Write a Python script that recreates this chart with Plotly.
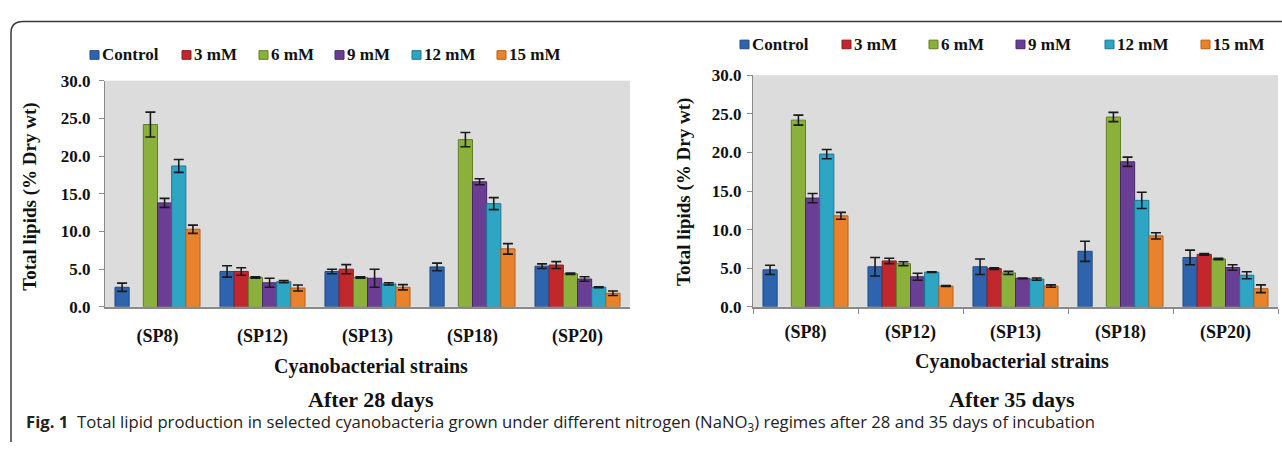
import plotly.graph_objects as go

W, H = 1282, 450

strains = ["(SP8)", "(SP12)", "(SP13)", "(SP18)", "(SP20)"]
series_names = ["Control", "3 mM", "6 mM", "9 mM", "12 mM", "15 mM"]

# Total lipids (% dry wt) after 28 days, one list per NaNO3 treatment
d28_control = [2.6, 4.7, 4.7, 5.3, 5.4]
d28_3mm = [None, 4.7, 5.0, None, 5.55]
d28_6mm = [24.2, 3.9, 3.9, 22.2, 4.4]
d28_9mm = [13.8, 3.2, 3.8, 16.6, 3.7]
d28_12mm = [18.7, 3.35, 3.05, 13.7, 2.6]
d28_15mm = [10.3, 2.5, 2.6, 7.7, 1.8]

d28_control_err = [0.55, 0.75, 0.3, 0.5, 0.3]
d28_3mm_err = [0, 0.5, 0.6, 0, 0.45]
d28_6mm_err = [1.65, 0.1, 0.1, 0.95, 0.1]
d28_9mm_err = [0.6, 0.6, 1.2, 0.4, 0.3]
d28_12mm_err = [0.85, 0.15, 0.15, 0.8, 0.05]
d28_15mm_err = [0.55, 0.4, 0.35, 0.7, 0.3]

# Total lipids (% dry wt) after 35 days
d35_control = [4.8, 5.2, 5.2, 7.2, 6.4]
d35_3mm = [None, 5.95, 4.95, None, 6.8]
d35_6mm = [24.2, 5.6, 4.4, 24.6, 6.2]
d35_9mm = [14.1, 3.9, 3.7, 18.8, 5.1]
d35_12mm = [19.8, 4.5, 3.6, 13.8, 4.1]
d35_15mm = [11.8, 2.7, 2.7, 9.2, 2.35]

d35_control_err = [0.6, 1.2, 1.0, 1.3, 0.95]
d35_3mm_err = [0, 0.35, 0.1, 0, 0.1]
d35_6mm_err = [0.65, 0.25, 0.2, 0.6, 0.1]
d35_9mm_err = [0.6, 0.45, 0.05, 0.6, 0.35]
d35_12mm_err = [0.6, 0.05, 0.15, 1.05, 0.45]
d35_15mm_err = [0.45, 0.05, 0.15, 0.4, 0.5]

fills = ["#2E64AE", "#C1272D", "#8BB13C", "#6A3E94", "#2DA5C3", "#E8832B"]
edges = ["#1F4A85", "#8E1B20", "#5F7F25", "#482868", "#1D7690", "#B3611B"]

d28 = [d28_control, d28_3mm, d28_6mm, d28_9mm, d28_12mm, d28_15mm]
d28_err = [d28_control_err, d28_3mm_err, d28_6mm_err, d28_9mm_err, d28_12mm_err, d28_15mm_err]
d35 = [d35_control, d35_3mm, d35_6mm, d35_9mm, d35_12mm, d35_15mm]
d35_err = [d35_control_err, d35_3mm_err, d35_6mm_err, d35_9mm_err, d35_12mm_err, d35_15mm_err]

SERIF = "Liberation Serif"
SANS = "Open Sans"
INK = "#111111"


def px(x):
    return x / W


def py(y):
    return 1 - y / H


fig = go.Figure()

for axis_id, values, errors in (("", d28, d28_err), ("2", d35, d35_err)):
    for name, vals, errs, fc, ec in zip(series_names, values, errors, fills, edges):
        fig.add_trace(go.Bar(
            x=strains, y=vals, name=name,
            xaxis="x" + axis_id, yaxis="y" + axis_id,
            marker=dict(color=fc, line=dict(color=ec, width=1)),
            error_y=dict(type="data", array=errs, visible=True,
                         color="#1a1a1a", thickness=1.6, width=5),
            showlegend=False,
        ))

xtick_font = dict(family=SERIF, size=18, color=INK, weight="bold")
ytick_font = dict(family=SERIF, size=17, color=INK, weight="bold")

common_y = dict(range=[0, 30], dtick=5, tickformat=".1f", showgrid=False,
                showline=True, linecolor="#8a8a8a", linewidth=1.2,
                ticks="outside", ticklen=5, tickcolor="#8a8a8a",
                tickfont=ytick_font, zeroline=False, fixedrange=True)
common_x = dict(showgrid=False, showline=True, linecolor="#8a8a8a",
                linewidth=1.5, tickfont=xtick_font, fixedrange=True)

fig.update_layout(
    width=W, height=H,
    margin=dict(l=0, r=0, t=0, b=0),
    paper_bgcolor="white",
    barmode="group", bargap=0.19, bargroupgap=0,
    xaxis=dict(domain=[px(105), px(630)], anchor="y", ticks="",
               ticklabelstandoff=12, **common_x),
    yaxis=dict(domain=[py(311), py(75)], anchor="x", ticklabelstandoff=5, **common_y),
    xaxis2=dict(domain=[px(753), px(1278)], anchor="y2", ticks="outside",
                tickson="boundaries", ticklen=5, tickcolor="#8a8a8a",
                ticklabelstandoff=8, **common_x),
    yaxis2=dict(domain=[py(311), py(69.3)], anchor="x2", ticklabelstandoff=2, **common_y),
)

# plot area backgrounds
for x0, x1, y0, y1 in ((105, 630, 75, 311), (753, 1278, 69.3, 311)):
    fig.add_shape(type="rect", xref="paper", yref="paper",
                  x0=px(x0), x1=px(x1), y0=py(y1), y1=py(y0),
                  fillcolor="#DCDCDC", line=dict(width=0), layer="below")

# frame around the figure panel
r = 12
frame = (f"M {px(11)},{py(452)} L {px(11)},{py(13 + r)} "
         f"Q {px(11)},{py(13)} {px(11 + r)},{py(13)} "
         f"L {px(1290)},{py(13)}")
fig.add_shape(type="path", xref="paper", yref="paper", path=frame,
              line=dict(color="#3a3a3a", width=1.5))

# legends drawn as coloured squares with labels
legend_rows = [
    (48, [90, 182, 259, 335, 412, 497]),
    (37, [740, 842, 929, 1016, 1105, 1201]),
]
for yc, xs in legend_rows:
    for name, x0, fc, ec in zip(series_names, xs, fills, edges):
        fig.add_shape(type="rect", xref="paper", yref="paper",
                      x0=px(x0), x1=px(x0 + 9), y0=py(yc + 4.5), y1=py(yc - 4.5),
                      fillcolor=fc, line=dict(color=ec, width=1))
        fig.add_annotation(x=px(x0 + 10), y=py(yc), xref="paper", yref="paper",
                           text=name, showarrow=False,
                           xanchor="left", yanchor="middle",
                           font=dict(family=SERIF, size=17, color=INK, weight="bold"))

# axis titles
for xc, yc in ((30, 196), (684, 191)):
    fig.add_annotation(x=px(xc), y=py(yc), xref="paper", yref="paper",
                       text="Total lipids (% Dry wt)", textangle=-90,
                       showarrow=False, xanchor="center", yanchor="middle",
                       font=dict(family=SERIF, size=19, color=INK, weight="bold"))

for xc, y1, y2, label in ((371, 373, 408, "After 28 days"), (1012, 368, 408, "After 35 days")):
    fig.add_annotation(x=px(xc), y=py(y1), xref="paper", yref="paper",
                       text="Cyanobacterial strains", showarrow=False,
                       xanchor="center", yanchor="middle",
                       font=dict(family=SERIF, size=20, color=INK, weight="bold"))
    fig.add_annotation(x=px(xc), y=py(y2), xref="paper", yref="paper",
                       text=label, showarrow=False,
                       xanchor="center", yanchor="middle",
                       font=dict(family=SERIF, size=22, color=INK, weight="bold"))

fig.add_annotation(
    x=px(24), y=py(432), xref="paper", yref="paper", showarrow=False,
    xanchor="left", yanchor="middle",
    text=("<b>Fig. 1</b>  Total lipid production in selected cyanobacteria grown under "
          "different nitrogen (NaNO<sub>3</sub>) regimes after 28 and 35 days of incubation"),
    font=dict(family=SANS, size=16.7, color="#222"),
)

fig.write_html("out.html")
